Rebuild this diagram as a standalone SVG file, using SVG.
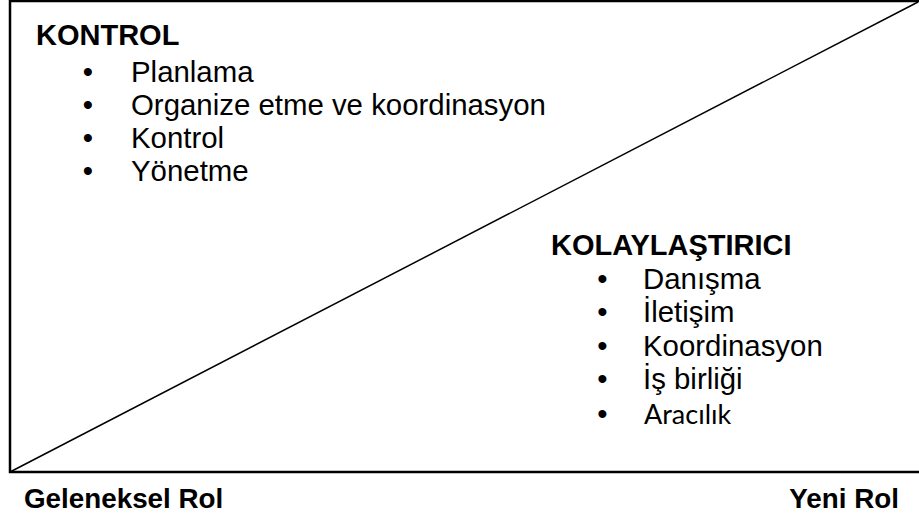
<svg xmlns="http://www.w3.org/2000/svg" width="919" height="517" viewBox="0 0 919 517">
<style>
.frame{fill:none;stroke:#000;stroke-width:2.5}
.diag{fill:none;stroke:#000;stroke-width:1.5}
.t{font-family:"Liberation Sans",Arial,sans-serif;font-size:29.4px;fill:#000}
.b{font-family:"Liberation Sans",Arial,sans-serif;font-size:29px;font-weight:bold;fill:#000}
.lb{font-family:"Liberation Sans",Arial,sans-serif;font-size:27.8px;font-weight:bold;fill:#000}
.c{font-family:Lato,"Open Sans",sans-serif;font-size:27px;fill:#000}
.bul{text-anchor:middle}
</style>
<rect width="919" height="517" fill="#fff"/>
<g id="frame">
<path class="frame" d="M919,1 H10 V472 H919"/>
<path class="diag" d="M10,472 L918,2"/>
</g>
<g id="kontrol">
<text class="b" x="36" y="45">KONTROL</text>
<text class="t bul" x="88" y="81.5">•</text><text class="t" x="131" y="81.5">Planlama</text>
<text class="t bul" x="88" y="114.5">•</text><text class="t" x="131" y="114.5">Organize etme ve koordinasyon</text>
<text class="t bul" x="88" y="147.5">•</text><text class="t" x="131" y="147.5">Kontrol</text>
<text class="t bul" x="88" y="180.5">•</text><text class="t" x="131" y="180.5">Yönetme</text>
</g>
<g id="kolaylastirici">
<text class="b" x="551" y="254.5">KOLAYLAŞTIRICI</text>
<text class="t bul" x="602.5" y="288.5">•</text><text class="t" x="643" y="288.5">Danışma</text>
<text class="t bul" x="602.5" y="322">•</text><text class="t" x="643" y="322">İletişim</text>
<text class="t bul" x="602.5" y="355.5">•</text><text class="t" x="643" y="355.5">Koordinasyon</text>
<text class="t bul" x="602.5" y="389">•</text><text class="t" x="643" y="389">İş birliği</text>
<text class="t bul" x="602.5" y="424">•</text><text class="c" x="644" y="424">Aracılık</text>
</g>
<g id="labels">
<text class="lb" x="24" y="507.5">Geleneksel Rol</text>
<text class="lb" x="899" y="507.5" text-anchor="end">Yeni Rol</text>
</g>
</svg>
